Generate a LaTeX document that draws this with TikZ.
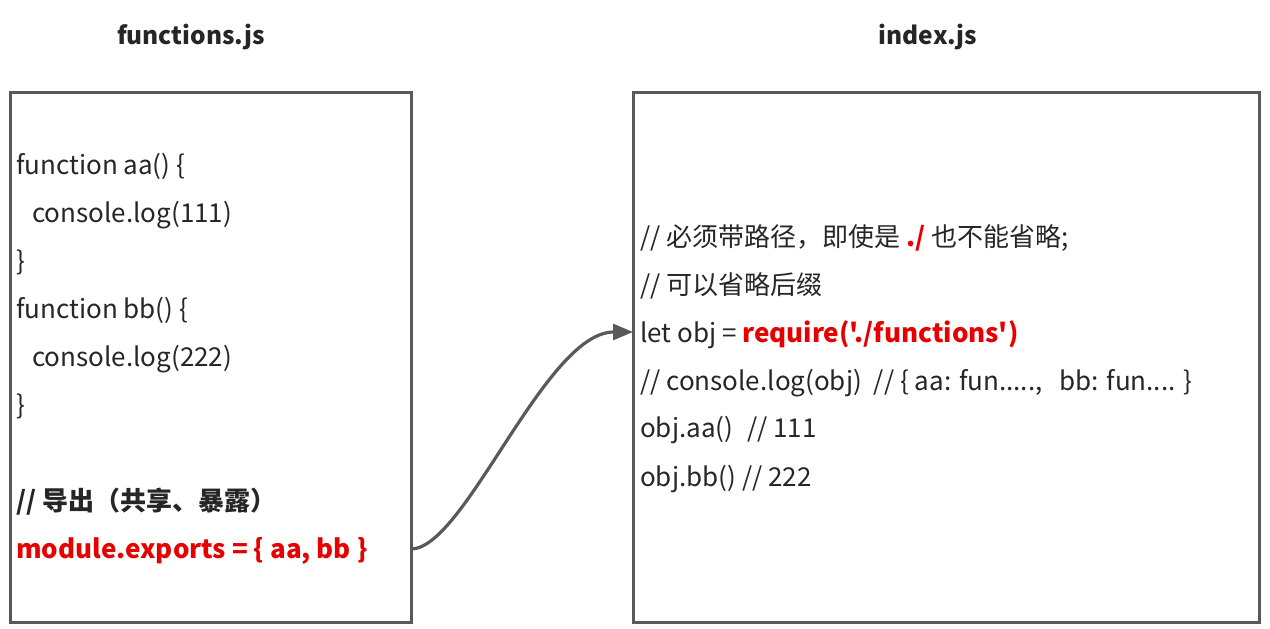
\documentclass[tikz,border=0pt]{standalone}
\usepackage{fontspec}
\setmainfont{Noto Sans CJK SC}[Ligatures=TeXOff]
\usetikzlibrary{arrows.meta}
\definecolor{border}{HTML}{595959}
\definecolor{txt}{HTML}{262626}
\definecolor{hl}{HTML}{E60000}
\tikzset{
  filebox/.style={draw=border, line width=3pt, fill=white},
  code/.style={anchor=base west, inner sep=0pt, text=txt, font=\fontsize{26}{30}\selectfont},
  title/.style={anchor=base, inner sep=0pt, text=txt, font=\fontsize{24.5}{28}\selectfont\bfseries},
  link/.style={draw=border, line width=3.2pt, -{Triangle[length=20pt,width=16pt]}}
}
\begin{document}
\begin{tikzpicture}[x=1pt,y=-1pt]
\useasboundingbox (0,0) rectangle (1270,629);
\node[title] (t1) at (191,45) {functions.js};
\node[title] (t2) at (928,45) {index.js};
\draw[filebox] (10,92) rectangle (411,622);
\coordinate (lbE) at (411,549);
\draw[filebox] (633,92) rectangle (1259,622);
\node[code] (l1) at (16,174) {function aa() \{};
\node[code] (l2) at (16,222) {\hspace{16pt}console.log(111)};
\node[code] (l3) at (16,270) {\}};
\node[code] (l4) at (16,318) {function bb() \{};
\node[code] (l5) at (16,366) {\hspace{16pt}console.log(222)};
\node[code] (l6) at (16,414) {\}};
\node[code,font=\fontsize{26}{30}\selectfont\bfseries] (l7) at (16,510) {// 导出（共享、暴露）};
\node[code,font=\fontsize{26}{30}\selectfont\bfseries,text=hl] (l8) at (16,558) {module.exports = \{ aa, bb \}};
\node[code] (r1) at (640,246) {// 必须带路径，即使是 {\bfseries\color{hl}./} 也不能省略;};
\node[code] (r2) at (640,294) {// 可以省略后缀};
\node[code] (r3) at (640,342) {let obj = {\bfseries\color{hl}require('./functions')}};
\node[code] (r4) at (640,390) {// console.log(obj)\hspace{12pt}// \{ aa: fun.....,\hspace{17pt}bb: fun.... \}};
\node[code] (r5) at (640,437) {obj.aa()\hspace{14pt}// 111};
\node[code] (r6) at (640,486) {obj.bb()\hspace{6pt}// 222};
\coordinate (rbW) at (633,332);
\draw[link] (lbE) .. controls (465,549) and (545,332) .. (rbW);
\end{tikzpicture}
\end{document}
